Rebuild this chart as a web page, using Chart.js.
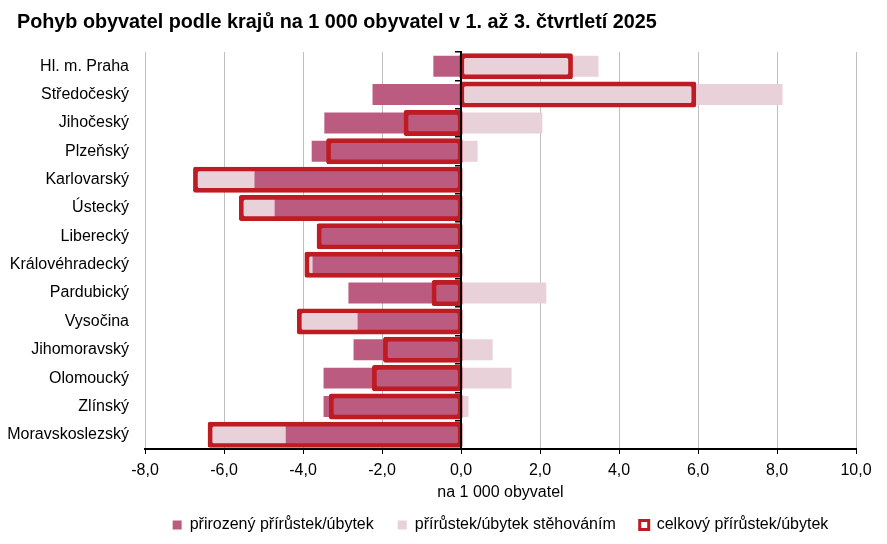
<!DOCTYPE html>
<html>
<head>
<meta charset="utf-8">
<script src="https://cdn.jsdelivr.net/npm/chart.js@4.4.1/dist/chart.umd.min.js"></script>
<style>
html,body{margin:0;padding:0;background:#fff;}
#wrap{width:887px;height:544px;position:relative;}
</style>
</head>
<body>
<div id="wrap"><canvas id="c"></canvas></div>
<script>
const titleText = 'Pohyb obyvatel podle krajů na 1 000 obyvatel v 1. až 3. čtvrtletí 2025';
const axisTitle = 'na 1 000 obyvatel';
const categories = ['Hl. m. Praha','Středočeský','Jihočeský','Plzeňský','Karlovarský','Ústecký','Liberecký','Královéhradecký','Pardubický','Vysočina','Jihomoravský','Olomoucký','Zlínský','Moravskoslezský'];
const seriesNames = ['přirozený přírůstek/úbytek','přírůstek/úbytek stěhováním','celkový přírůstek/úbytek'];
const natural   = [-0.70,-2.24,-3.46,-3.78,-5.23,-4.72,-3.55,-3.76,-2.85,-2.62,-2.72,-3.48,-3.48,-4.44];
const migration = [ 3.48, 8.14, 2.06, 0.42,-1.50,-0.85,-0.05,-0.15, 2.16,-1.48, 0.80, 1.28, 0.19,-1.92];
const total     = [ 2.78, 5.90,-1.40,-3.36,-6.73,-5.57,-3.60,-3.91,-0.69,-4.10,-1.92,-2.20,-3.29,-6.36];
const xMin = -8, xMax = 10, xStep = 2;

const colNatural = '#BB5B7F';
const colMigration = '#E8D1D9';
const colTotal = '#BE1B23';
const FONT = "'Liberation Sans', Arial, sans-serif";

Chart.defaults.font.family = FONT;
Chart.defaults.color = '#000';

// let the category labels use the room left of the title indent (label clip area)
const labelRoom = { id: 'labelRoom', afterLayout(chart) { chart.scales.y.left = 0; } };

new Chart(document.getElementById('c'), {
  type: 'bar',
  data: {
    labels: categories,
    datasets: [
      { label: seriesNames[0], data: natural, backgroundColor: colNatural, borderWidth: 0,
        stack: 'parts', grouped: false, order: 2, barPercentage: 0.74, categoryPercentage: 1 },
      { label: seriesNames[1], data: migration, backgroundColor: colMigration, borderWidth: 0,
        stack: 'parts', grouped: false, order: 2, barPercentage: 0.74, categoryPercentage: 1 },
      { label: seriesNames[2], data: total, backgroundColor: 'rgba(0,0,0,0)', borderColor: colTotal,
        borderWidth: 0.5, inflateAmount: 2.1, borderSkipped: false, borderRadius: 2,
        stack: 'total', grouped: false, order: 1, barPercentage: 0.77, categoryPercentage: 1 }
    ]
  },
  plugins: [labelRoom],
  options: {
    indexAxis: 'y',
    responsive: true,
    maintainAspectRatio: false,
    animation: false,
    layout: { padding: { left: 17, right: 31, top: 0, bottom: 1 } },
    plugins: {
      title: { display: true, text: titleText, align: 'start', color: '#000',
               font: { size: 19.8, weight: 'bold', family: FONT }, padding: { top: 11, bottom: 17.3 } },
      legend: {
        position: 'bottom', fullSize: false, align: 'center',
        labels: {
          boxWidth: 9, boxHeight: 9, padding: 24, color: '#000', font: { size: 16, family: FONT },
          generateLabels: () => [
            { text: seriesNames[0], fillStyle: colNatural, strokeStyle: colNatural, lineWidth: 0, hidden: false, datasetIndex: 0, fontColor: '#000' },
            { text: seriesNames[1], fillStyle: colMigration, strokeStyle: colMigration, lineWidth: 0, hidden: false, datasetIndex: 1, fontColor: '#000' },
            { text: seriesNames[2], fillStyle: '#FFFFFF', strokeStyle: colTotal, lineWidth: 3, hidden: false, datasetIndex: 2, fontColor: '#000' }
          ]
        }
      },
      tooltip: { enabled: false }
    },
    scales: {
      x: {
        type: 'linear', stacked: true, min: xMin, max: xMax,
        ticks: { stepSize: xStep, padding: 7, color: '#000', font: { size: 16 },
                 callback: v => v.toFixed(1).replace('.', ',') },
        grid: { color: '#BFBFBF', lineWidth: 1, tickColor: '#000', tickLength: 5, drawTicks: true },
        border: { display: true, color: '#000', width: 2 },
        title: { display: true, text: axisTitle, color: '#000', font: { size: 16 }, padding: { top: 0, bottom: -9.6 } },
        afterFit: s => { s.height = 44; }
      },
      y: {
        type: 'category', stacked: true,
        grid: { display: false, drawTicks: false },
        border: { display: false },
        ticks: { padding: 16, color: '#000', font: { size: 16 } },
        afterFit: s => { s.width = 128; }
      },
      y2: {
        type: 'category', axis: 'y', labels: categories, position: { x: 0 }, offset: true,
        grid: { offset: true, drawOnChartArea: false, drawTicks: true, tickLength: 5, color: '#000', lineWidth: 1.5 },
        border: { display: true, color: '#000', width: 2, z: 1 },
        ticks: { display: false }
      }
    }
  }
});
</script>
</body>
</html>
